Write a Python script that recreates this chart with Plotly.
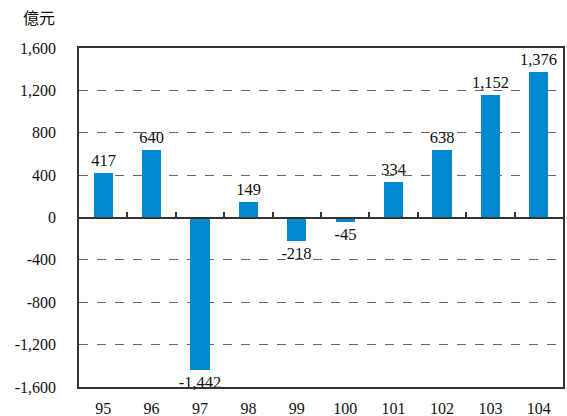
import plotly.graph_objects as go

years = ["95", "96", "97", "98", "99", "100", "101", "102", "103", "104"]
values = [417, 640, -1442, 149, -218, -45, 334, 638, 1152, 1376]
y_ticks = [-1600, -1200, -800, -400, 0, 400, 800, 1200, 1600]
y_tick_text = ["-1,600", "-1,200", "-800", "-400", "0", "400", "800", "1,200", "1,600"]

font_serif = "Liberation Serif"
xs = list(range(len(years)))
labels = [f"{v:,}" for v in values]

fig = go.Figure()
fig.add_trace(go.Bar(
    x=xs, y=values, width=0.4,
    marker=dict(color="#0088D1", line=dict(width=0)),
    text=labels, textposition="outside", cliponaxis=False,
    constraintext="none",
    textfont=dict(family=font_serif, size=16.5, color="#111111"),
))
fig.update_layout(
    width=567, height=416,
    margin=dict(l=79, r=4, t=48, b=29, autoexpand=False),
    paper_bgcolor="white", plot_bgcolor="white",
    showlegend=False,
    font=dict(family=font_serif, size=16, color="#111111"),
    xaxis=dict(
        range=[-0.5, len(years) - 0.5],
        tickvals=xs, ticktext=years,
        showgrid=False, zeroline=False, automargin=False,
        showline=True, linecolor="#333333", linewidth=1.5, mirror=True,
        ticks="", ticklabelstandoff=6,
        tickfont=dict(family=font_serif, size=16),
    ),
    xaxis2=dict(
        range=[-0.5, len(years) - 0.5],
        overlaying="x", anchor="free", position=0.5, side="bottom",
        tickvals=[i + 0.5 for i in xs[:-1]], showticklabels=False,
        ticks="inside", ticklen=5, tickcolor="#333333", tickwidth=1.5,
        showline=True, linecolor="#333333", linewidth=1.5,
        showgrid=False, zeroline=False, automargin=False,
    ),
    yaxis=dict(
        range=[-1600, 1600],
        tickvals=y_ticks, ticktext=y_tick_text,
        showgrid=True, gridcolor="#666666", griddash="dash", gridwidth=1,
        zeroline=False, automargin=False,
        showline=True, linecolor="#333333", linewidth=1.5, mirror=True,
        ticks="", ticklabelstandoff=18,
        tickfont=dict(family=font_serif, size=16),
    ),
    bargap=0,
)
fig.add_trace(go.Scatter(x=[0], y=[0], xaxis="x2", mode="markers",
                         marker=dict(opacity=0), hoverinfo="skip"))
fig.add_annotation(text="億元", xref="paper", yref="paper", x=-0.083, y=1.091,
                   xanchor="center", yanchor="middle", showarrow=False,
                   font=dict(family="Noto Sans CJK TC", size=16, color="#111111"))
fig.write_html("out.html", config={"displayModeBar": False},
               post_script="document.body.style.margin='0';")
